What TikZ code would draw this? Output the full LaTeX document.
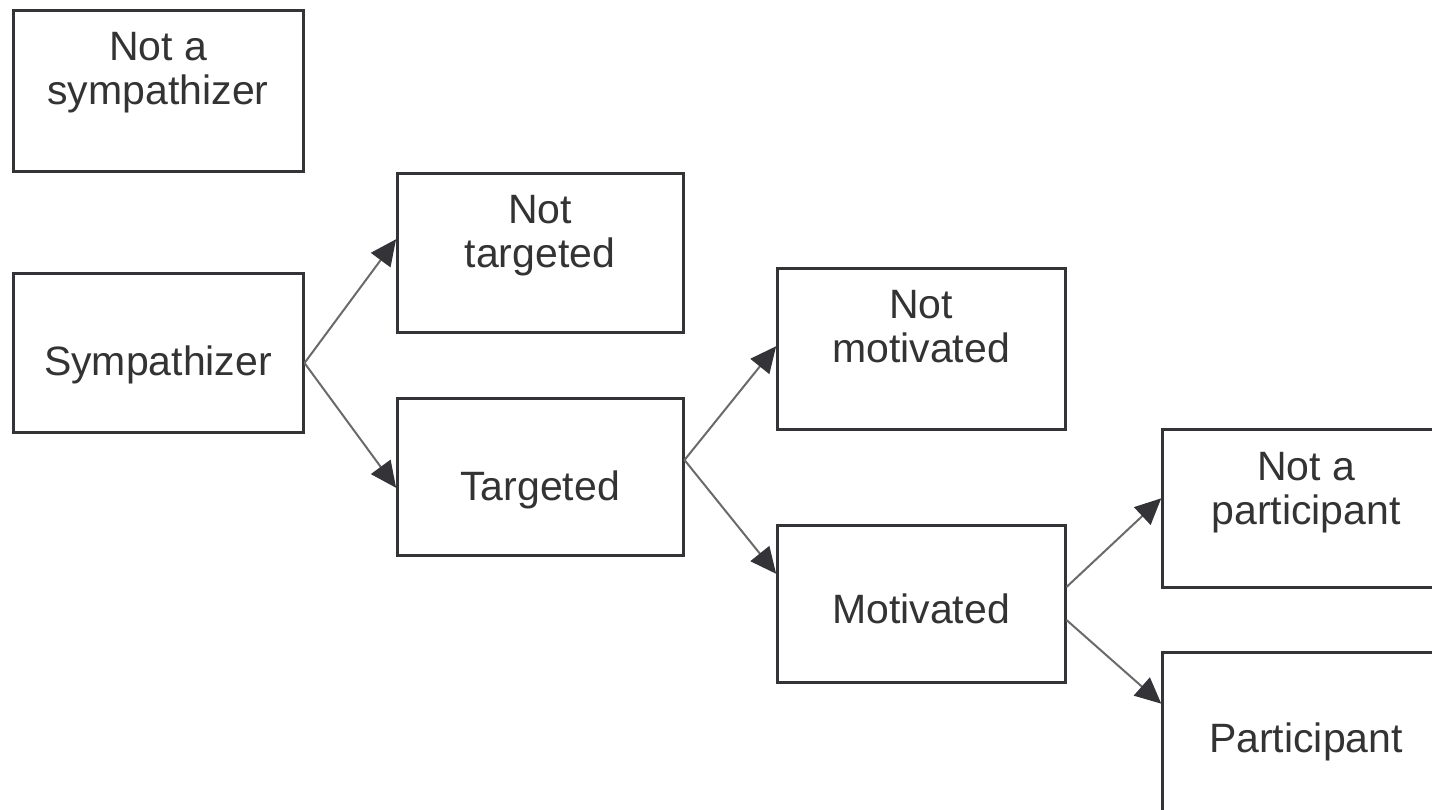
\documentclass[tikz,border=0pt]{standalone}
\usepackage{fontspec}
\setmainfont{Liberation Sans}
\usetikzlibrary{arrows.meta,calc}
\definecolor{boxline}{HTML}{333338}
\definecolor{txtcol}{HTML}{333333}
\definecolor{arrline}{HTML}{6A6A6A}
\tikzset{
  box/.style={draw=boxline, line width=3pt, rectangle, inner sep=0pt, minimum width=#1},
  box/.default=288pt,
  lbl/.style={text=txtcol, inner sep=0pt, anchor=base, align=center,
    font=\fontsize{41}{44}\selectfont},
  conn/.style={draw=arrline, line width=2pt,
    -{Triangle[length=26pt,width=24pt,color=boxline]}, shorten >=-1pt},
}
\begin{document}
\begin{tikzpicture}[x=1pt,y=-1pt]
\useasboundingbox (0,0) rectangle (1432,809);
\clip (0,0) rectangle (1432,809);
% boxes
\node[box=290pt, minimum height=161pt] (nsymp) at (158,90.5) {};
\node[box=290pt, minimum height=159pt] (symp) at (158,352.5) {};
\node[box=286pt, minimum height=159pt] (ntarg) at (540,252.5) {};
\node[box=286pt, minimum height=157pt] (targ) at (540,476.5) {};
\node[box=288pt, minimum height=161pt] (nmot) at (921,348.5) {};
\node[box=288pt, minimum height=157pt] (mot) at (921,603.5) {};
\node[box=288pt, minimum height=158pt] (npart) at (1306,508) {};
\node[box=288pt, minimum height=160pt] (part) at (1306,732) {};
% texts (multi-line nodes: base anchor is the last line's baseline)
\node[lbl] (nsympt) at (158,104) {Not a\\sympathizer};
\node[lbl] (sympt) at (158,375) {Sympathizer};
\node[lbl] (ntargt) at (540,267) {Not\\targeted};
\node[lbl] (targt) at (540,500) {Targeted};
\node[lbl] (nmott) at (921,362) {Not\\motivated};
\node[lbl] (mott) at (921,623) {Motivated};
\node[lbl] (npartt) at (1306,524) {Not a\\participant};
\node[lbl] (partt) at (1306,752) {Participant};
% connectors
\draw[conn] ($(symp.east)+(0,10.5)$) -- ($(ntarg.west)+(0,-12.5)$);
\draw[conn] ($(symp.east)+(0,10.5)$) -- ($(targ.west)+(0,10.5)$);
\draw[conn] ($(targ.east)+(0,-16.5)$) -- ($(nmot.west)+(0,-1.5)$);
\draw[conn] ($(targ.east)+(0,-16.5)$) -- ($(mot.west)+(0,-30.5)$);
\draw[conn] ($(mot.east)+(0,-16.5)$) -- ($(npart.west)+(0,-9)$);
\draw[conn] ($(mot.east)+(0,16.5)$) -- ($(part.west)+(0,-29)$);
\end{tikzpicture}
\end{document}
